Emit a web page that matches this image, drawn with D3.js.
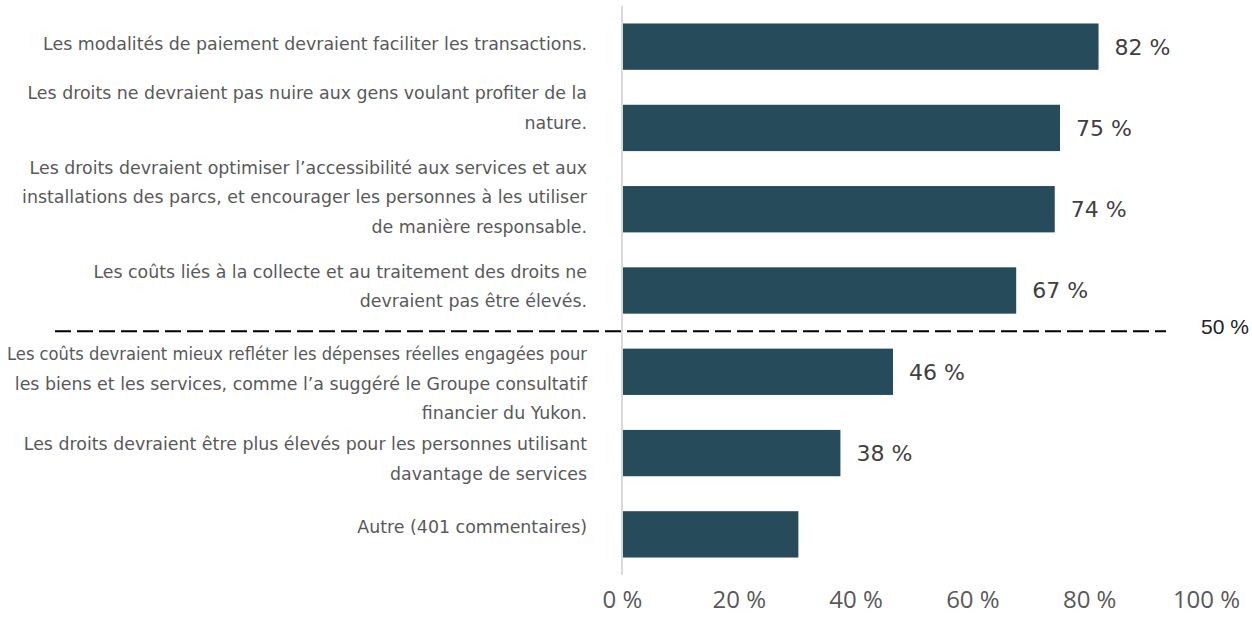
<!DOCTYPE html>
<html>
<head>
<meta charset="utf-8">
<script src="https://cdn.jsdelivr.net/npm/d3@7"></script>
<style>
  html, body { margin: 0; padding: 0; background: #fff; }
  svg { display: block; }
</style>
</head>
<body>
<svg id="chart" width="1252" height="617"></svg>
<script>
// ---- Data ----
const categories = [
  "Les modalités de paiement devraient faciliter les transactions.",
  "Les droits ne devraient pas nuire aux gens voulant profiter de la nature.",
  "Les droits devraient optimiser l’accessibilité aux services et aux installations des parcs, et encourager les personnes à les utiliser de manière responsable.",
  "Les coûts liés à la collecte et au traitement des droits ne devraient pas être élevés.",
  "Les coûts devraient mieux refléter les dépenses réelles engagées pour les biens et les services, comme l’a suggéré le Groupe consultatif financier du Yukon.",
  "Les droits devraient être plus élevés pour les personnes utilisant davantage de services",
  "Autre (401 commentaires)"
];
const categoryLines = [
  ["Les modalités de paiement devraient faciliter les transactions."],
  ["Les droits ne devraient pas nuire aux gens voulant profiter de la", "nature."],
  ["Les droits devraient optimiser l’accessibilité aux services et aux", "installations des parcs, et encourager les personnes à les utiliser", "de manière responsable."],
  ["Les coûts liés à la collecte et au traitement des droits ne", "devraient pas être élevés."],
  ["Les coûts devraient mieux refléter les dépenses réelles engagées pour", "les biens et les services, comme l’a suggéré le Groupe consultatif", "financier du Yukon."],
  ["Les droits devraient être plus élevés pour les personnes utilisant", "davantage de services"],
  ["Autre (401 commentaires)"]
];
const values = [81.6, 75.0, 74.1, 67.5, 46.4, 37.4, 30.2];
const valueLabels = ["82 %", "75 %", "74 %", "67 %", "46 %", "38 %", null];
const xTicks = [0, 20, 40, 60, 80, 100];
const xTickLabels = ["0 %", "20 %", "40 %", "60 %", "80 %", "100 %"];
const threshold = 50;
const thresholdLabel = "50 %";

// ---- Layout ----
const svg = d3.select("#chart");
const x = d3.scaleLinear().domain([0, 100]).range([622, 1206]);
const y = d3.scaleBand().domain(categories).range([6, 575])
  .paddingInner(0.43).paddingOuter(0.215);

const barColor = "#264c5b";
const textColor = "#595959";
// vertical nudges of the category label blocks (layout only)
const labelNudge = [-3, -20, -12, -4, 12, 6, -7];

// axis line (category axis)
svg.append("line")
  .attr("x1", x(0)).attr("x2", x(0))
  .attr("y1", 6).attr("y2", 575)
  .attr("stroke", "#d9d9d9").attr("stroke-width", 2);

// bars
svg.append("g").selectAll("rect")
  .data(categories)
  .join("rect")
  .attr("x", x(0) + 1)
  .attr("y", d => y(d))
  .attr("width", (d, i) => x(values[i]) - x(0) - 1)
  .attr("height", y.bandwidth())
  .attr("fill", barColor);

// value labels
svg.append("g").selectAll("text")
  .data(categories.filter((d, i) => valueLabels[i] !== null))
  .join("text")
  .attr("x", d => x(values[categories.indexOf(d)]) + 16)
  .attr("y", d => y(d) + y.bandwidth() / 2)
  .attr("dy", "0.36em")
  .attr("font-family", "'DejaVu Sans', sans-serif")
  .attr("font-size", 22)
  .attr("fill", "#404040")
  .text(d => valueLabels[categories.indexOf(d)]);

// category labels
const lineH = 29.5;
const labelRight = 587;
const maxW = 580;
const labG = svg.append("g")
  .attr("font-family", "'DejaVu Sans', sans-serif")
  .attr("font-size", 17.4)
  .attr("fill", textColor)
  .attr("text-anchor", "end");
categories.forEach((c, i) => {
  const lines = categoryLines[i];
  const cy = y(c) + y.bandwidth() / 2 + labelNudge[i];
  lines.forEach((ln, j) => {
    const t = labG.append("text")
      .attr("x", labelRight)
      .attr("y", cy - (lines.length - 1) * lineH / 2 + j * lineH)
      .attr("dy", "0.35em")
      .text(ln);
    const w = t.node().getComputedTextLength();
    if (w > maxW) {
      t.attr("textLength", maxW).attr("lengthAdjust", "spacingAndGlyphs");
    }
  });
});

// x axis ticks
const xAxis = d3.axisBottom(x).tickValues(xTicks)
  .tickFormat((d, i) => xTickLabels[i]).tickSize(0).tickPadding(0);
const ax = svg.append("g").attr("transform", "translate(0,591)").call(xAxis);
ax.select(".domain").remove();
ax.selectAll("text")
  .attr("font-family", "'Open Sans', sans-serif")
  .attr("font-size", 24)
  .attr("fill", textColor)
  .attr("dy", "0.7em");

// threshold separator
const idxAbove = values.findIndex(v => v < threshold);
const yLine = (y(categories[idxAbove - 1]) + y.bandwidth() + y(categories[idxAbove])) / 2;
svg.append("line")
  .attr("x1", 55).attr("x2", 1166)
  .attr("y1", yLine).attr("y2", yLine)
  .attr("stroke", "#000").attr("stroke-width", 2)
  .attr("stroke-dasharray", "16,6");
svg.append("text")
  .attr("x", 1201).attr("y", yLine - 4)
  .attr("dy", "0.35em")
  .attr("font-family", "'Liberation Sans', Arial, sans-serif")
  .attr("font-size", 21)
  .attr("fill", "#222")
  .text(thresholdLabel);
</script>
</body>
</html>
